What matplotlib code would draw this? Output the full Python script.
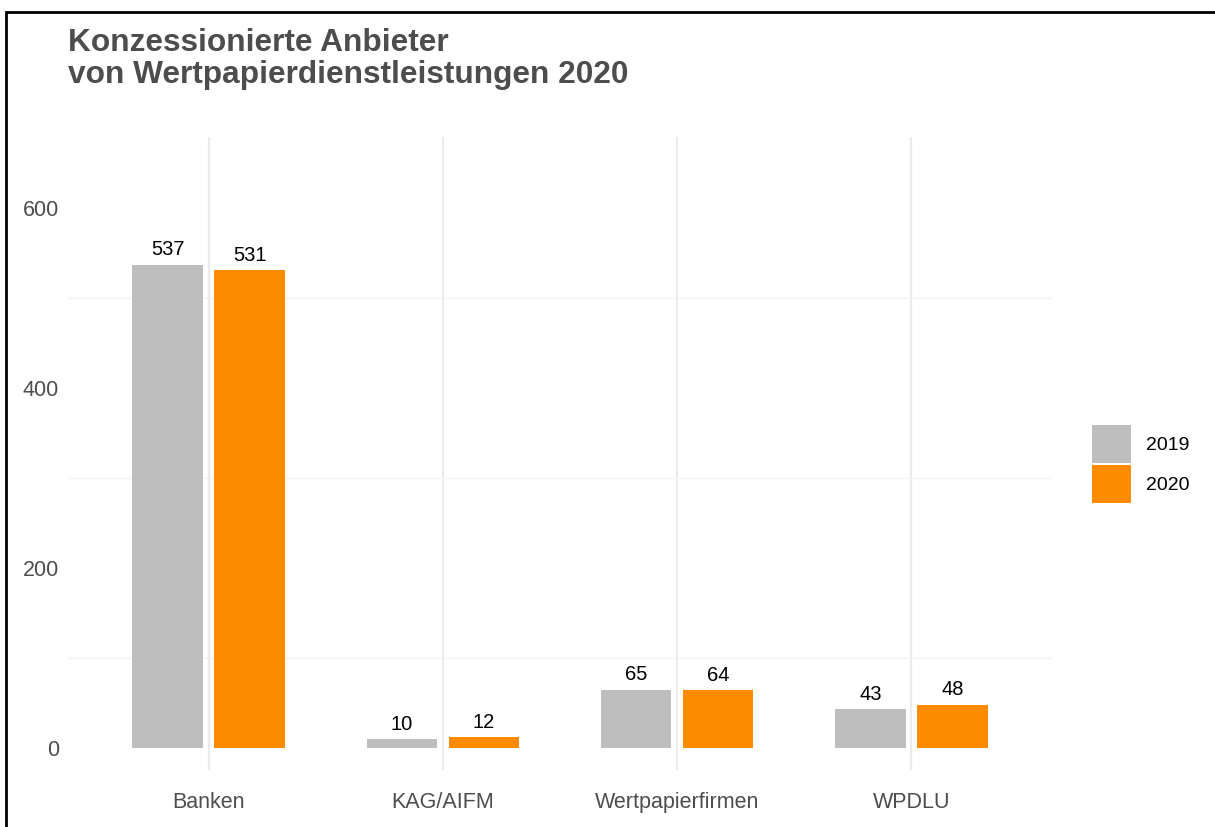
import matplotlib.pyplot as plt
import numpy as np
from matplotlib.patches import Rectangle

plt.rcParams['font.family'] = ['Liberation Sans', 'DejaVu Sans']

categories = ['Banken', 'KAG/AIFM', 'Wertpapierfirmen', 'WPDLU']
years = ['2019', '2020']
vals_2019 = [537, 10, 65, 43]
vals_2020 = [531, 12, 64, 48]
colors = ['#BEBEBE', '#FF8C00']

fig = plt.figure(figsize=(12.15, 8.27), dpi=100)
ax = fig.add_axes([68 / 1215, 1 - 770 / 827, (1052 - 68) / 1215, (770 - 137) / 827])

x = np.arange(len(categories))
w = 0.3
off = 0.175
for i, (vals, c, yr) in enumerate(zip([vals_2019, vals_2020], colors, years)):
    pos = x + (-off if i == 0 else off)
    ax.bar(pos, vals, width=w, color=c, label=yr, zorder=2)
    for p, v in zip(pos, vals):
        ax.text(p, v + 6, str(v), ha='center', va='bottom', fontsize=14.5,
                color='black', zorder=3)

ax.set_xlim(-0.6, len(categories) - 0.4)
ax.set_ylim(-24.4, 679)
ax.set_xticks(x)
ax.set_xticklabels(categories)
ax.set_yticks([0, 200, 400, 600])
ax.set_yticks([100, 300, 500], minor=True)

# ggplot-like minimal look
for s in ax.spines.values():
    s.set_visible(False)
ax.tick_params(axis='both', which='both', length=0, labelsize=15.5, labelcolor='#4D4D4D')
ax.tick_params(axis='x', pad=16)
ax.tick_params(axis='y', pad=6.5)
ax.grid(axis='x', which='major', color='#EBEBEB', linewidth=1.6, zorder=0)
ax.grid(axis='y', which='minor', color='#F2F2F2', linewidth=1.0, zorder=0)
ax.grid(axis='y', which='major', visible=False)
ax.set_axisbelow(True)

leg = ax.legend(loc='center left', bbox_to_anchor=(1092 / 1215, 1 - 464 / 827),
                bbox_transform=fig.transFigure, frameon=False, fontsize=14,
                handlelength=2.0, handleheight=2.6, labelspacing=0.15,
                handletextpad=0.8, borderaxespad=0, borderpad=0)

fig.text(68 / 1215, 1 - 28 / 827,
         'Konzessionierte Anbieter\nvon Wertpapierdienstleistungen 2020',
         ha='left', va='top', fontsize=22.8, fontweight='bold', color='#4D4D4D',
         linespacing=1.1)

# frame around the figure
fig.patches.append(Rectangle((6 / 1215, -0.05), 1.2, 1 - 12 / 827 + 0.05,
                             transform=fig.transFigure, fill=False,
                             edgecolor='black', linewidth=2))

fig.savefig('out.png', dpi=100)
